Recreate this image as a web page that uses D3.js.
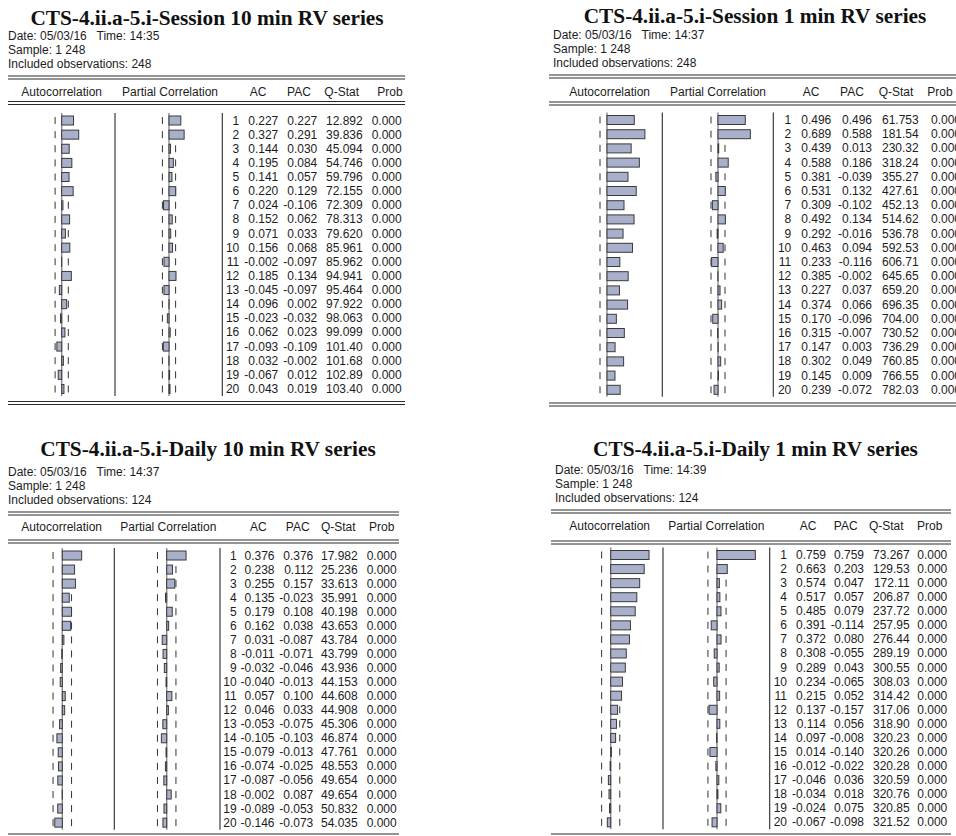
<!DOCTYPE html>
<html><head><meta charset="utf-8">
<script src="https://cdn.jsdelivr.net/npm/d3@7"></script>
<style>
body{margin:0;background:#fff}
svg{display:block}
text{font-family:"Liberation Sans",Arial,sans-serif;font-size:12px;fill:#1c1c1c}
.ttl{font-family:"Liberation Serif","Times New Roman",serif;font-weight:bold;font-size:21.3px;fill:#111}
.info{white-space:pre}
</style>
</head><body>
<svg id="chart" width="956" height="836"></svg>
<script>
// ---------- data ----------
const lags = [1,2,3,4,5,6,7,8,9,10,11,12,13,14,15,16,17,18,19,20];
const panelTitles = ["CTS-4.ii.a-5.i-Session 10 min RV series","CTS-4.ii.a-5.i-Session 1 min RV series","CTS-4.ii.a-5.i-Daily 10 min RV series","CTS-4.ii.a-5.i-Daily 1 min RV series"];
const panelDates = ["05/03/16","05/03/16","05/03/16","05/03/16"];
const panelTimes = ["14:35","14:37","14:37","14:39"];
const panelSamples = ["1 248","1 248","1 248","1 248"];
const panelObs = [248,248,124,124];
const headers = ["Autocorrelation","Partial Correlation","AC","PAC","Q-Stat","Prob"];

const s10Ac  = [0.227,0.327,0.144,0.195,0.141,0.220,0.024,0.152,0.071,0.156,-0.002,0.185,-0.045,0.096,-0.023,0.062,-0.093,0.032,-0.067,0.043];
const s10Pac = [0.227,0.291,0.030,0.084,0.057,0.129,-0.106,0.062,0.033,0.068,-0.097,0.134,-0.097,0.002,-0.032,0.023,-0.109,-0.002,0.012,0.019];
const s10Q   = [12.892,39.836,45.094,54.746,59.796,72.155,72.309,78.313,79.620,85.961,85.962,94.941,95.464,97.922,98.063,99.099,101.40,101.68,102.89,103.40];
const s10Prob= [0,0,0,0,0,0,0,0,0,0,0,0,0,0,0,0,0,0,0,0];

const s1Ac   = [0.496,0.689,0.439,0.588,0.381,0.531,0.309,0.492,0.292,0.463,0.233,0.385,0.227,0.374,0.170,0.315,0.147,0.302,0.145,0.239];
const s1Pac  = [0.496,0.588,0.013,0.186,-0.039,0.132,-0.102,0.134,-0.016,0.094,-0.116,-0.002,0.037,0.066,-0.096,-0.007,0.003,0.049,0.009,-0.072];
const s1Q    = [61.753,181.54,230.32,318.24,355.27,427.61,452.13,514.62,536.78,592.53,606.71,645.65,659.20,696.35,704.00,730.52,736.29,760.85,766.55,782.03];
const s1Prob = [0,0,0,0,0,0,0,0,0,0,0,0,0,0,0,0,0,0,0,0];

const d10Ac  = [0.376,0.238,0.255,0.135,0.179,0.162,0.031,-0.011,-0.032,-0.040,0.057,0.046,-0.053,-0.105,-0.079,-0.074,-0.087,-0.002,-0.089,-0.146];
const d10Pac = [0.376,0.112,0.157,-0.023,0.108,0.038,-0.087,-0.071,-0.046,-0.013,0.100,0.033,-0.075,-0.103,-0.013,-0.025,-0.056,0.087,-0.053,-0.073];
const d10Q   = [17.982,25.236,33.613,35.991,40.198,43.653,43.784,43.799,43.936,44.153,44.608,44.908,45.306,46.874,47.761,48.553,49.654,49.654,50.832,54.035];
const d10Prob= [0,0,0,0,0,0,0,0,0,0,0,0,0,0,0,0,0,0,0,0];

const d1Ac   = [0.759,0.663,0.574,0.517,0.485,0.391,0.372,0.308,0.289,0.234,0.215,0.137,0.114,0.097,0.014,-0.012,-0.046,-0.034,-0.024,-0.067];
const d1Pac  = [0.759,0.203,0.047,0.057,0.079,-0.114,0.080,-0.055,0.043,-0.065,0.052,-0.157,0.056,-0.008,-0.140,-0.022,0.036,0.018,0.075,-0.098];
const d1Q    = [73.267,129.53,172.11,206.87,237.72,257.95,276.44,289.19,300.55,308.03,314.42,317.06,318.90,320.23,320.26,320.28,320.59,320.76,320.85,321.52];
const d1Prob = [0,0,0,0,0,0,0,0,0,0,0,0,0,0,0,0,0,0,0,0];

const acSeries  = [s10Ac, s1Ac, d10Ac, d1Ac];
const pacSeries = [s10Pac, s1Pac, d10Pac, d1Pac];
const qSeries   = [s10Q, s1Q, d10Q, d1Q];
const probSeries= [s10Prob, s1Prob, d10Prob, d1Prob];

// ---------- layout ----------
const layouts = [
 {titleX:207, titleY:17.5, textX:8, dateY:35.5, sampleY:49.5, inclY:63.5, dbl1:76, headY:92, dbl2:101.5, row1:120.5, step:14.13, bot:401.5, botDouble:true,
  lineL:8, lineR:405, acZ:61.7, pacZ:169, unit:52, sep1:115, sep2:222.3, lagR:239.3, acR:278.3, pacR:317.3, qR:362.7, probR:401.7,
  hx:[61.7,170,258,299,341.7,390]},
 {titleX:755, titleY:15.5, textX:553, dateY:34.5, sampleY:48.5, inclY:62.5, dbl1:75, headY:92, dbl2:102, row1:120, step:14.2, bot:403, botDouble:true,
  lineL:549, lineR:960, acZ:607, pacZ:718, unit:55, sep1:662.3, sep2:773.3, lagR:791.3, acR:831.3, pacR:872, qR:918.7, probR:961,
  hx:[609.7,718,811,852,896,940]},
 {titleX:208, titleY:448.5, textX:8, dateY:471.5, sampleY:485.5, inclY:499.5, dbl1:512, headY:527, dbl2:540, row1:555.5, step:14.06, bot:834, botDouble:false,
  lineL:8, lineR:399, acZ:62.3, pacZ:166.7, unit:51.5, sep1:114.3, sep2:220, lagR:236.7, acR:274.5, pacR:313.3, qR:357.7, probR:396.7,
  hx:[61.7,168.3,258.3,297.7,338.3,381.7]},
 {titleX:755.5, titleY:448.5, textX:555, dateY:469.5, sampleY:483.5, inclY:497.5, dbl1:510, headY:526, dbl2:541, row1:555, step:14.07, bot:834, botDouble:false,
  lineL:551, lineR:951, acZ:610.7, pacZ:717, unit:50.5, sep1:663, sep2:769.7, lagR:787, acR:826, pacR:864, qR:909.7, probR:947.3,
  hx:[609.7,716.3,808,845.7,886.3,929.7]}
];

const svg = d3.select("#chart");
svg.append("rect").attr("width",956).attr("height",836).attr("fill","#fff");

const loc = d3.formatLocale({decimal:".", thousands:",", grouping:[3], currency:["",""], minus:"-"});
const f3 = loc.format(".3f");
const fq = loc.format(".5r");
const LINE = "#2a2a2a";

function hline(g, x1, x2, y, w){
  g.append("line").attr("x1",x1).attr("x2",x2).attr("y1",y).attr("y2",y)
   .attr("stroke",LINE).attr("stroke-width",w||1);
}

panelTitles.forEach((title, i) => {
  const L = layouts[i];
  const g = svg.append("g");
  g.append("text").attr("class","ttl").attr("x",L.titleX).attr("y",L.titleY)
    .attr("text-anchor","middle").attr("dominant-baseline","central").text(title);
  g.append("text").attr("class","info").attr("x",L.textX).attr("y",L.dateY).attr("dominant-baseline","central")
    .text("Date: " + panelDates[i] + "   Time: " + panelTimes[i]);
  g.append("text").attr("class","info").attr("x",L.textX).attr("y",L.sampleY).attr("dominant-baseline","central")
    .text("Sample: " + panelSamples[i]);
  g.append("text").attr("class","info").attr("x",L.textX).attr("y",L.inclY).attr("dominant-baseline","central")
    .text("Included observations: " + panelObs[i]);

  hline(g, L.lineL, L.lineR, L.dbl1);
  hline(g, L.lineL, L.lineR, L.dbl1+3);
  hline(g, L.lineL, L.lineR, L.dbl2);
  hline(g, L.lineL, L.lineR, L.dbl2+3);
  hline(g, L.lineL, L.lineR, L.bot);
  if (L.botDouble) hline(g, L.lineL, L.lineR, L.bot+3);

  headers.forEach((h, k) => {
    g.append("text").attr("x",L.hx[k]).attr("y",L.headY).attr("text-anchor","middle")
      .attr("dominant-baseline","central").text(h);
  });

  const y = d3.scaleLinear().domain([1,20]).range([L.row1, L.row1 + 19*L.step]);
  const xa = d3.scaleLinear().domain([0,1]).range([L.acZ, L.acZ + L.unit]);
  const xp = d3.scaleLinear().domain([0,1]).range([L.pacZ, L.pacZ + L.unit]);
  const top = y(1) - 7.5, bottom = y(20) + 7;
  const bound = 2/Math.sqrt(panelObs[i]);

  [L.sep1, L.sep2].forEach(sx => g.append("line").attr("x1",sx).attr("x2",sx).attr("y1",top).attr("y2",bottom)
     .attr("stroke",LINE).attr("stroke-width",1.1));

  [[xa, acSeries[i]], [xp, pacSeries[i]]].forEach(([xs, vals]) => {
    lags.forEach(l => {
      [-bound, bound].forEach(b => {
        g.append("line").attr("x1",xs(b)).attr("x2",xs(b)).attr("y1",y(l)-3.5).attr("y2",y(l)+3.5)
          .attr("stroke","#333").attr("stroke-width",1);
      });
    });
    g.append("line").attr("x1",xs(0)).attr("x2",xs(0)).attr("y1",top).attr("y2",bottom)
      .attr("stroke","#8a8a8a").attr("stroke-width",1.4);
    g.selectAll(null).data(lags).enter().append("rect")
      .attr("x", l => Math.min(xs(0), xs(vals[l-1])))
      .attr("width", l => Math.abs(xs(vals[l-1]) - xs(0)))
      .attr("y", l => y(l) - 4.5).attr("height", 9)
      .attr("fill","#a9b0cc").attr("stroke","#3a3a3a").attr("stroke-width",1);
  });

  const cols = [
    [L.lagR, l => String(l)],
    [L.acR, l => f3(acSeries[i][l-1])],
    [L.pacR, l => f3(pacSeries[i][l-1])],
    [L.qR, l => fq(qSeries[i][l-1])],
    [L.probR, l => f3(probSeries[i][l-1])]
  ];
  cols.forEach(([cx, fn]) => {
    g.selectAll(null).data(lags).enter().append("text")
      .attr("x", cx).attr("y", l => y(l)).attr("text-anchor","end").attr("dominant-baseline","central")
      .text(fn);
  });
});
</script>
</body></html>
